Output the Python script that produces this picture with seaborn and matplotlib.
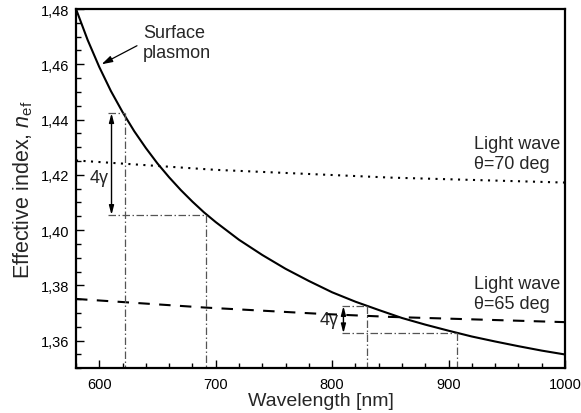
import numpy as np
import pandas as pd
import matplotlib
matplotlib.use("Agg")
import matplotlib.pyplot as plt
from matplotlib.ticker import MultipleLocator, FuncFormatter
import seaborn as sns

# ---- data ----
sp_wl = [580, 590, 600, 610, 620, 630, 640, 650, 660, 670, 680, 690, 700, 720, 740,
         760, 780, 800, 820, 840, 860, 880, 900, 920, 940, 960, 980, 1000]
sp_n = [1.4800, 1.4688, 1.4590, 1.4503, 1.4427, 1.4358, 1.4297, 1.4241, 1.4191, 1.4145,
        1.4103, 1.4064, 1.4029, 1.3965, 1.3910, 1.3860, 1.3816, 1.3775, 1.3741, 1.3711,
        1.3682, 1.3658, 1.3636, 1.3615, 1.3597, 1.3580, 1.3564, 1.3550]

lw70_wl = [580, 700, 850, 1000]
lw70_n = [1.4252, 1.4218, 1.4190, 1.4172]

lw65_wl = [580, 690, 790, 850, 1000]
lw65_n = [1.3751, 1.3720, 1.3697, 1.3686, 1.3667]

# 4-gamma constructions
brk1 = dict(xb=610.5, x0=607.5, wl_top=622.3, n_top=1.4423, wl_bot=691.5, n_bot=1.4055)
brk2 = dict(xb=809.7, x0=808.5, wl_top=829.8, n_top=1.3725, wl_bot=907.5, n_bot=1.3627)

xticks = [600, 700, 800, 900, 1000]
yticks = [1.36, 1.38, 1.40, 1.42, 1.44, 1.46, 1.48]

sns.set_theme(style="ticks")
plt.rcParams['font.family'] = ['Liberation Sans', 'DejaVu Sans']
plt.rcParams['mathtext.fontset'] = 'custom'
plt.rcParams['mathtext.rm'] = 'Liberation Sans'
plt.rcParams['mathtext.it'] = 'Liberation Sans:italic'

fig = plt.figure(figsize=(5.81, 4.14), dpi=100)
ax = fig.add_axes([76/581, 44.7/414, 489/581, 359.3/414])

df_sp = pd.DataFrame({"wl": sp_wl, "n": sp_n})
df70 = pd.DataFrame({"wl": lw70_wl, "n": lw70_n})
df65 = pd.DataFrame({"wl": lw65_wl, "n": lw65_n})

sns.lineplot(data=df_sp, x="wl", y="n", ax=ax, color="black", linewidth=1.5)
sns.lineplot(data=df70, x="wl", y="n", ax=ax, color="black", linewidth=1.5,
             linestyle=(0, (1.0, 2.6)))
sns.lineplot(data=df65, x="wl", y="n", ax=ax, color="black", linewidth=1.5,
             linestyle=(0, (5.5, 4.5)))

ax.set_xlim(580, 1000)
ax.set_ylim(1.35, 1.48)

dd = dict(color="#555555", linewidth=0.9, linestyle=(0, (6, 2, 1.2, 2)))
for b in (brk1, brk2):
    ax.plot([b["x0"], b["wl_top"]], [b["n_top"], b["n_top"]], **dd)
    ax.plot([b["x0"], b["wl_bot"]], [b["n_bot"], b["n_bot"]], **dd)
    ax.plot([b["wl_top"], b["wl_top"]], [b["n_top"], 1.35], **dd)
    ax.plot([b["wl_bot"], b["wl_bot"]], [b["n_bot"], 1.35], **dd)
    ax.annotate("", xy=(b["xb"], b["n_top"]), xytext=(b["xb"], b["n_bot"]),
                arrowprops=dict(arrowstyle="<|-|>,head_length=0.45,head_width=0.12",
                                color="black", lw=1.0, shrinkA=0, shrinkB=0))

ax.text(599.5, 1.4192, "4γ", fontsize=13, ha="center", va="center")
ax.text(797.5, 1.3676, "4γ", fontsize=13, ha="center", va="center")

ax.annotate("Surface\nplasmon", xy=(602.0, 1.4600), xytext=(637.3, 1.4678),
            fontsize=13, ha="left", va="center", linespacing=1.2,
            arrowprops=dict(arrowstyle="-|>,head_length=0.5,head_width=0.15",
                            color="black", lw=0.9, shrinkA=2, shrinkB=0,
                            relpos=(0.0, 0.5)))

ax.text(921.5, 1.4276, "Light wave\nθ=70 deg", fontsize=13, ha="left",
        va="center", linespacing=1.25)
ax.text(921.5, 1.3771, "Light wave\nθ=65 deg", fontsize=13, ha="left",
        va="center", linespacing=1.25)

ax.set_xticks(xticks)
ax.set_yticks(yticks)
ax.xaxis.set_minor_locator(MultipleLocator(20))
ax.yaxis.set_minor_locator(MultipleLocator(0.005))
ax.yaxis.set_major_formatter(FuncFormatter(lambda v, p: f"{v:.2f}".replace(".", ",")))
ax.tick_params(which="both", direction="in", top=False, right=False,
               colors="black", labelsize=10.5, width=1.0)
ax.tick_params(which="major", length=6, pad=5)
ax.tick_params(which="minor", length=3.5)
ax.tick_params(axis="x", which="major", pad=6)

for s in ax.spines.values():
    s.set_linewidth(1.6)
    s.set_color("black")
    s.set_visible(True)

ax.set_xlabel("Wavelength [nm]", fontsize=14, labelpad=1)
ax.set_ylabel(r"Effective index, $n_{\rm ef}$", fontsize=15.5, labelpad=4)
ax.set_facecolor("white")
fig.patch.set_facecolor("white")

fig.savefig("out.png", dpi=100)
